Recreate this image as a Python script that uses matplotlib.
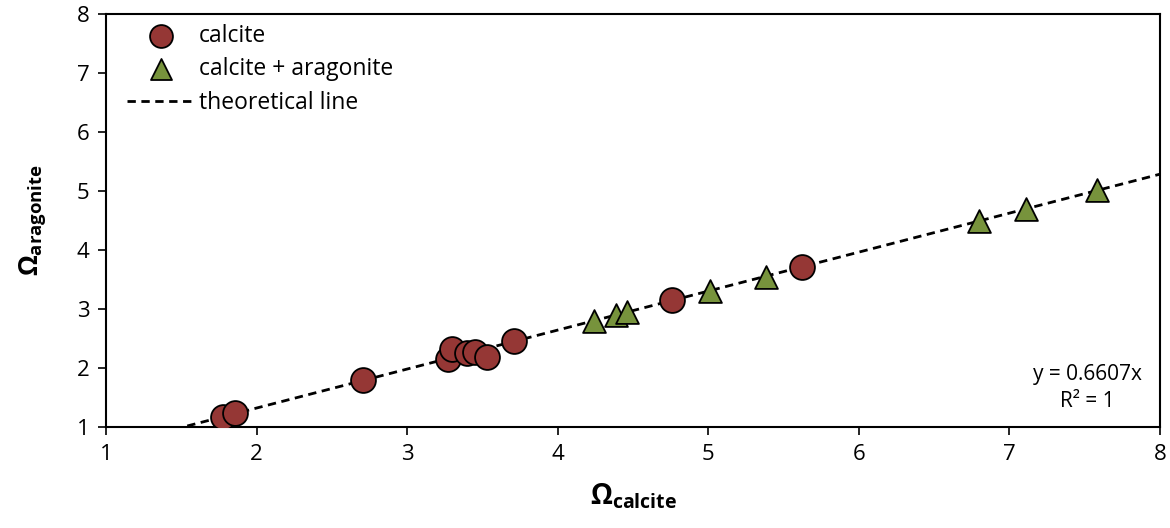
import numpy as np
import matplotlib
matplotlib.use("Agg")
import matplotlib.pyplot as plt

plt.rcParams['font.family'] = ['Open Sans', 'DejaVu Sans']
plt.rcParams['mathtext.fontset'] = 'custom'
plt.rcParams['mathtext.rm'] = 'Open Sans'
plt.rcParams['mathtext.bf'] = 'Open Sans:bold'

# saturation states, samples with calcite only
calcite_x = [1.78, 1.86, 2.71, 3.27, 3.30, 3.40, 3.45, 3.53, 3.71, 4.76, 5.62]
calcite_y = [1.17, 1.23, 1.79, 2.16, 2.33, 2.25, 2.27, 2.19, 2.45, 3.15, 3.71]

# samples with calcite + aragonite
mixed_x = [4.24, 4.39, 4.46, 5.01, 5.38, 6.80, 7.11, 7.58]
mixed_y = [2.79, 2.90, 2.95, 3.31, 3.55, 4.49, 4.70, 5.01]

slope = 0.6607
r_squared = 1

fig = plt.figure(figsize=(11.7, 5.28), dpi=100)
ax = fig.add_axes([0.0906, 0.1913, 0.9009, 0.7822])

xs = np.array([0.0, 8.0])
ax.plot(xs, slope * xs, color='black', lw=2, dashes=(3, 2),
        label='theoretical line', zorder=2)
ax.scatter(calcite_x, calcite_y, s=320, marker='o', facecolor='#953735',
           edgecolor='black', linewidth=1.3, label='calcite', zorder=3)
ax.scatter(mixed_x, mixed_y, s=270, marker='^', facecolor='#77933C',
           edgecolor='black', linewidth=1.3, label='calcite + aragonite', zorder=3)

ax.set_xlim(1, 8)
ax.set_ylim(1, 8)
ax.set_xticks(range(1, 9))
ax.set_yticks(range(1, 9))
ax.tick_params(direction='out', length=6, width=1.2, labelsize=16, pad=6)
for sp in ax.spines.values():
    sp.set_linewidth(1.5)

ax.set_xlabel(r'$\mathbf{\Omega}_{\mathbf{calcite}}$', fontsize=20, labelpad=12)
ax.set_ylabel(r'$\mathbf{\Omega}_{\mathbf{aragonite}}$', fontsize=19, labelpad=20)

ax.text(0.983, 0.095, f'y = {slope}x\nR² = {r_squared}', transform=ax.transAxes,
        ha='right', va='center', multialignment='center', fontsize=15,
        linespacing=1.35)

handles, labels = ax.get_legend_handles_labels()
order = [1, 2, 0]
ax.legend([handles[i] for i in order], [labels[i] for i in order],
          loc='upper left', bbox_to_anchor=(0.0, 1.025), frameon=False,
          fontsize=16.5, handlelength=3.0, handletextpad=0.15, labelspacing=0.4,
          markerscale=0.92)

fig.savefig('out.png', dpi=100)
